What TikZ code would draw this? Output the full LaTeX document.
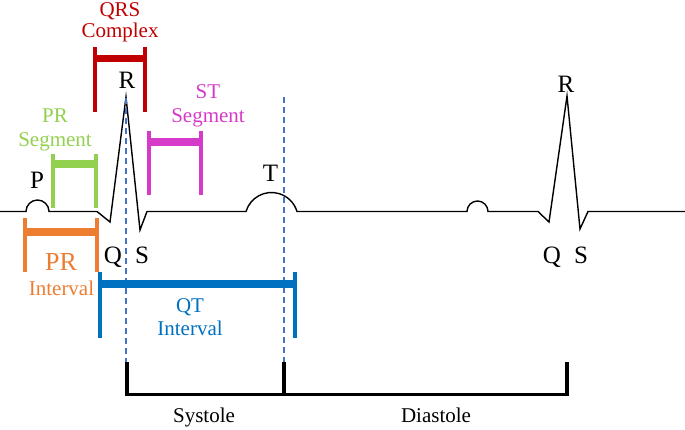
\documentclass[tikz,border=0pt]{standalone}
\usepackage{fontspec}
\setmainfont{Liberation Serif}
\usepackage{xcolor}
\usetikzlibrary{positioning}

\definecolor{qrsred}{HTML}{C00000}
\definecolor{prgreen}{HTML}{92D050}
\definecolor{stpink}{HTML}{D63AC8}
\definecolor{prorange}{HTML}{ED7D31}
\definecolor{qtblue}{HTML}{0070C0}
\definecolor{dashblue}{HTML}{4472C4}

\tikzset{
  wave/.style={black, line width=1.4pt, line join=miter},
  bar/.style={line width=7.5pt},
  leg/.style={line width=4pt},
  guide/.style={dashblue, line width=2pt, dash pattern=on 6pt off 4pt},
  word/.style={inner sep=0pt, anchor=base, font=\fontsize{21}{25}\selectfont},
  letter/.style={inner sep=0pt, anchor=base, font=\fontsize{25}{30}\selectfont},
}

\begin{document}
\begin{tikzpicture}[x=1pt,y=-1pt]
    \useasboundingbox (0,0) rectangle (685,429);

    % ECG trace
    \draw[wave] (0,211.5) -- (26,211.5) arc[start angle=180,end angle=360,radius=11.5]
      -- (97,211.5) -- (110,222) -- (126,97) -- (140,230) -- (147,211.5)
      -- (246,211.5) arc[start angle=196.6,end angle=343.4,radius=26.6]
      -- (467,211.5) arc[start angle=180,end angle=360,radius=10.5]
      -- (538,211.5) -- (549,222) -- (567,96) -- (580,229) -- (588,211.5)
      -- (685,211.5);

    % Guides
    \draw[guide] (126,98) -- (126,363);
    \draw[guide] (284,97) -- (284,362);

    % QRS complex
    \draw[qrsred,leg] (95,47) -- (95,112) (145,47) -- (145,112);
    \draw[qrsred,bar] (95,58.5) -- (145,58.5);
    \node[word,qrsred] (qrs) at (120,16) {QRS};
    \node[word,qrsred] (complex) at (120,37) {Complex};

    % PR segment
    \draw[prgreen,leg] (53,154) -- (53,208) (96,154) -- (96,208);
    \draw[prgreen,bar] (53,164) -- (96,164);
    \node[word,prgreen] (prs) at (55,122) {PR};
    \node[word,prgreen] (prsegment) at (55,146) {Segment};

    % ST segment
    \draw[stpink,leg] (149,131) -- (149,195) (201,131) -- (201,195);
    \draw[stpink,bar] (149,142) -- (201,142);
    \node[word,stpink] (st) at (208,98) {ST};
    \node[word,stpink] (stsegment) at (208,122) {Segment};

    % PR interval
    \draw[prorange,leg] (25,218) -- (25,272) (97,218) -- (97,272);
    \draw[prorange,bar] (25,232) -- (97,232);
    \node[word,prorange,font=\fontsize{26}{30}\selectfont] (pri) at (61,270) {PR};
    \node[word,prorange] (printerval) at (61.5,295) {Interval};

    % QT interval
    \draw[qtblue,leg] (100,272) -- (100,338) (295,272) -- (295,338);
    \draw[qtblue,bar] (100,284) -- (295,284);
    \node[word,qtblue] (qt) at (190,312) {QT};
    \node[word,qtblue] (qtinterval) at (190,335) {Interval};

    % Waves
    \node[letter] (p) at (37,188) {P};
    \node[letter] (r1) at (127,88) {R};
    \node[letter] (q1) at (113,263) {Q};
    \node[letter] (s1) at (142,263) {S};
    \node[letter] (t) at (270.5,181) {T};
    \node[letter] (r2) at (566,92) {R};
    \node[letter] (q2) at (552,263) {Q};
    \node[letter] (s2) at (581,263) {S};

    % Systole & diastole
    \draw[line width=3pt] (127,394) -- (567,394);
    \foreach \x in {127,284,567}
    \draw[line width=4pt] (\x,362) -- (\x,395.5);
    \node[word] (systole) at (204,422) {Systole};
    \node[word] (diastole) at (436,422) {Diastole};
  \end{tikzpicture}
\end{document}
